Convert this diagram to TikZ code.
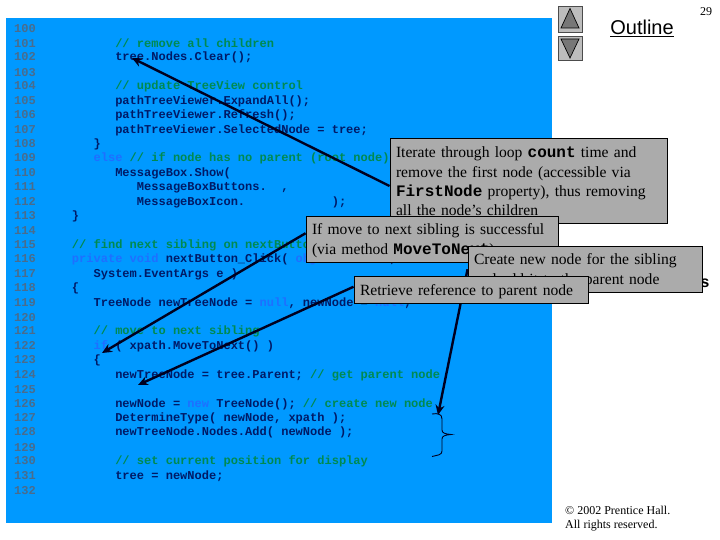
\documentclass[tikz,border=0pt]{standalone}
\usepackage{fontspec}
\setmainfont{Liberation Serif}
\newfontfamily\codefont{Liberation Mono Bold}
\newfontfamily\outlinefont{Liberation Sans}
\usetikzlibrary{arrows.meta}
\pgfdeclarelayer{under}
\pgfdeclarelayer{arrowlayer}
\pgfsetlayers{under,arrowlayer,main}
\definecolor{slideblue}{HTML}{0099FF}
\definecolor{numcol}{HTML}{4A6C8C}
\definecolor{codecol}{HTML}{001A66}
\definecolor{cmtcol}{HTML}{008A50}
\definecolor{kwcol}{HTML}{1F6FFF}
\definecolor{boxgrey}{HTML}{ABABAB}
\definecolor{btngrey}{HTML}{BDBDBD}
\definecolor{trigrey}{HTML}{777777}
\definecolor{arrowcol}{HTML}{00001F}
\newcommand{\cmt}[1]{\textcolor{cmtcol}{#1}}
\newcommand{\kw}[1]{\textcolor{kwcol}{#1}}
\newcommand{\cb}[1]{{\codefont\fontsize{16}{16}\selectfont #1}}
\newcommand{\lowerstrut}{\rule{0pt}{14pt}}
\newcommand{\codeln}[2]{\node[codeline] (l#1) at (14,{29+(#1-100)*14.42}) {\textcolor{numcol}{#1}#2};}
\tikzset{
  codeline/.style={anchor=west,inner sep=0pt,text=codecol,font=\codefont\fontsize{12.03}{14}\selectfont},
  callout/.style={draw=black,line width=0.9pt,fill=boxgrey,inner ysep=0pt,inner xsep=6pt,align=left,text=black,
    font=\fontsize{15.6}{19.2}\selectfont},
  pointer/.style={draw=arrowcol,line width=2.4pt,-{Stealth[length=10pt,width=9pt]}},
  btn/.style={draw=black!70,line width=0.9pt,fill=btngrey},
  tri/.style={draw=black,line width=0.7pt,fill=trigrey},
  plain/.style={inner sep=0pt,text=black}
}
\begin{document}
\begin{tikzpicture}[x=1pt,y=-1pt]
\useasboundingbox (0,0) rectangle (720,540);
\begin{pgfonlayer}{under}
\fill[white] (0,0) rectangle (720,540);
\fill[slideblue] (6,18) rectangle (552,523);
\codeln{100}{}
\codeln{101}{~~~~~~~~~~~\cmt{// remove all children}}
\codeln{102}{~~~~~~~~~~~tree.Nodes.Clear();}
\codeln{103}{}
\codeln{104}{~~~~~~~~~~~\cmt{// update TreeView control}}
\codeln{105}{~~~~~~~~~~~pathTreeViewer.ExpandAll();}
\codeln{106}{~~~~~~~~~~~pathTreeViewer.Refresh();}
\codeln{107}{~~~~~~~~~~~pathTreeViewer.SelectedNode = tree;}
\codeln{108}{~~~~~~~~\}}
\codeln{109}{~~~~~~~~\kw{else} \cmt{// if node has no parent (root node)}}
\codeln{110}{~~~~~~~~~~~MessageBox.Show(}
\codeln{111}{~~~~~~~~~~~~~~MessageBoxButtons.~~,}
\codeln{112}{~~~~~~~~~~~~~~MessageBoxIcon.~~~~~~~~~~~~);}
\codeln{113}{~~~~~\}}
\codeln{114}{}
\codeln{115}{~~~~~\cmt{// find next sibling on nextButton\_Click}}
\codeln{116}{~~~~~\kw{private} \kw{void} nextButton\_Click( \kw{object} sender,}
\codeln{117}{~~~~~~~~System.EventArgs e )}
\codeln{118}{~~~~~\{}
\codeln{119}{~~~~~~~~TreeNode newTreeNode = \kw{null}, newNode = \kw{null};}
\codeln{120}{}
\codeln{121}{~~~~~~~~\cmt{// move to next sibling}}
\codeln{122}{~~~~~~~~\kw{if} ( xpath.MoveToNext() )}
\codeln{123}{~~~~~~~~\{}
\codeln{124}{~~~~~~~~~~~newTreeNode = tree.Parent; \cmt{// get parent node}}
\codeln{125}{}
\codeln{126}{~~~~~~~~~~~newNode = \kw{new} TreeNode(); \cmt{// create new node}}
\codeln{127}{~~~~~~~~~~~DetermineType( newNode, xpath );}
\codeln{128}{~~~~~~~~~~~newTreeNode.Nodes.Add( newNode );}
\codeln{129}{}
\codeln{130}{~~~~~~~~~~~\cmt{// set current position for display}}
\codeln{131}{~~~~~~~~~~~tree = newNode;}
\codeln{132}{}
\node[plain,font=\codefont\fontsize{16}{16}\selectfont] (tail) at (705,283) {s};
\end{pgfonlayer}
% callouts, lowest first
\node[callout,minimum height=85pt,text width=265pt] (iterate) at (528.5,180.5)
  {\rule{0pt}{12.5pt}Iterate through loop \cb{count} time and\\remove the first node (accessible via\\\cb{FirstNode} property), thus removing\\all the node’s children};
\node[callout,minimum height=45.5pt,text width=240.5pt] (ifmove) at (432.25,239.25)
  {\lowerstrut If move to next sibling is successful\\(via method \cb{MoveToNext})};
\node[callout,minimum height=45.5pt,text width=222pt] (create) at (585,269.25)
  {\lowerstrut Create new node for the sibling\\and add it to the parent node};
\node[callout,minimum height=26.5pt,text width=222pt] (retrieve) at (471,289.75)
  {\lowerstrut Retrieve reference to parent node};
% pointer ends
\coordinate (treeTip) at (132,58);
\coordinate (ifTip) at (102,353);
\coordinate (parentTip) at (138,385);
\coordinate (braceTop) at (438,415);
\begin{pgfonlayer}{arrowlayer}
\draw[pointer] ([yshift=-5.5pt]iterate.west) -- (treeTip);
\draw[pointer] ([yshift=6pt]ifmove.west) -- (ifTip);
\draw[pointer] ([yshift=3pt]retrieve.west) -- (parentTip);
\draw[pointer] (create.west) -- (braceTop);
\draw[arrowcol,line width=0.9pt] (432,414) .. controls (438,413) and (442,414) .. (442,419)
  -- (442,430) .. controls (442,433) and (445,434) .. (451,434.5)
  .. controls (445,435) and (442,436) .. (442,439)
  -- (442,451) .. controls (442,455) and (438,455) .. (432,456.5);
\end{pgfonlayer}
% navigation
\node[btn,minimum width=24pt,minimum height=26pt,inner sep=0pt] (upbtn) at (570,19.5) {};
\node[btn,minimum width=24pt,minimum height=24pt,inner sep=0pt] (downbtn) at (570,48) {};
\filldraw[tri] (570,8.5) -- (579,28) -- (561,28) -- cycle;
\filldraw[tri] (561,39) -- (579,39) -- (570,58) -- cycle;
\node[plain,font=\outlinefont\fontsize{20}{24}\selectfont] (outline) at (642,28) {\underline{Outline}};
\node[plain,font=\fontsize{12}{14}\selectfont] (pagenum) at (706,12) {29};
\node[plain,anchor=west,font=\fontsize{12}{14}\selectfont] (copy1) at (565,510) {© 2002 Prentice Hall.};
\node[plain,anchor=west,font=\fontsize{12}{14}\selectfont] (copy2) at (565,526) {All rights reserved.};
\end{tikzpicture}
\end{document}
